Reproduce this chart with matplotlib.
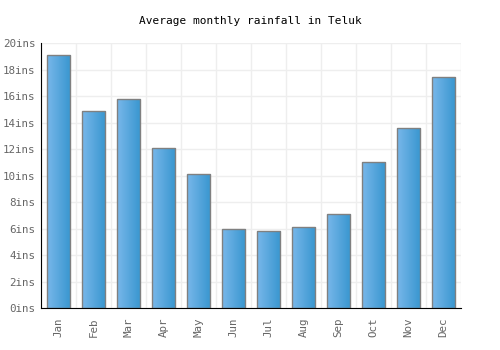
import matplotlib.pyplot as plt
import numpy as np
from matplotlib.colors import LinearSegmentedColormap

months = ["Jan", "Feb", "Mar", "Apr", "May", "Jun",
          "Jul", "Aug", "Sep", "Oct", "Nov", "Dec"]
rainfall = [19.1, 14.9, 15.8, 12.1, 10.1, 6.0, 5.8, 6.1, 7.1, 11.0, 13.6, 17.4]
yticks = [0, 2, 4, 6, 8, 10, 12, 14, 16, 18, 20]

plt.rcParams['font.family'] = 'DejaVu Sans Mono'

fig = plt.figure(figsize=(5, 3.5), dpi=100)
ax = fig.add_axes([0.082, 0.12, 0.84, 0.757])

x = np.arange(len(months))
bars = ax.bar(x, rainfall, width=0.66, color='none', edgecolor='#808080', linewidth=1, zorder=3)

# horizontal gradient inside each bar
cmap = LinearSegmentedColormap.from_list('rain', ['#78b7ea', '#3896cf'])
grad = np.linspace(0, 1, 64).reshape(1, -1)
for b in bars:
    x0, y0 = b.get_x(), b.get_y()
    w, h = b.get_width(), b.get_height()
    im = ax.imshow(grad, cmap=cmap, extent=[x0, x0 + w, y0, y0 + h],
                   aspect='auto', zorder=2)
    im.set_clip_path(b)

ax.set_xlim(-0.5, len(months) - 0.5)
ax.set_ylim(0, 20)
ax.set_yticks(yticks)
ax.set_yticklabels([f"{v}ins" for v in yticks])
ax.set_xticks(x)
ax.set_xticklabels(months, rotation=90)
ax.set_xticks(np.arange(-0.5, len(months), 1), minor=True)

ax.grid(False)
ax.grid(which='minor', axis='x', color='#eeeeee', linewidth=1, zorder=0)
ax.grid(which='major', axis='y', color='#eeeeee', linewidth=1, zorder=0)
ax.tick_params(which='both', length=0, labelsize=7.8, labelcolor='#666666')
ax.tick_params(axis='y', pad=4)
ax.tick_params(axis='x', pad=7)

for s in ['top', 'right']:
    ax.spines[s].set_visible(False)
ax.spines['left'].set_color('black')
ax.spines['bottom'].set_color('black')
ax.spines['left'].set_zorder(4)
ax.spines['bottom'].set_zorder(4)

fig.text(0.5, 0.94, "Average monthly rainfall in Teluk", ha='center', va='center',
         fontsize=8, color='black')

plt.savefig("out.png")
